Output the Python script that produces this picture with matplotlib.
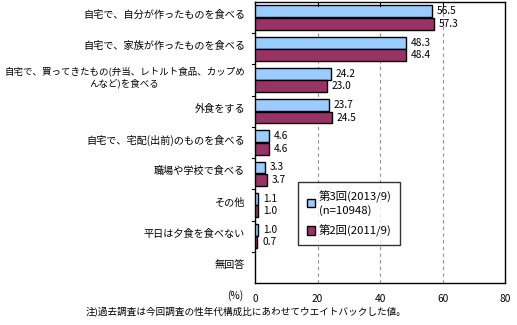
import matplotlib
matplotlib.use("Agg")
import matplotlib.pyplot as plt
from matplotlib.patches import Patch
import numpy as np

plt.rcParams['font.family'] = ['Noto Sans CJK JP', 'DejaVu Sans']

categories = [
    "自宅で、自分が作ったものを食べる",
    "自宅で、家族が作ったものを食べる",
    "自宅で、買ってきたもの(弁当、レトルト食品、カップめ\nんなど)を食べる",
    "外食をする",
    "自宅で、宅配(出前)のものを食べる",
    "職場や学校で食べる",
    "その他",
    "平日は夕食を食べない",
    "無回答",
]
wave3 = [56.5, 48.3, 24.2, 23.7, 4.6, 3.3, 1.1, 1.0, None]
wave2 = [57.3, 48.4, 23.0, 24.5, 4.6, 3.7, 1.0, 0.7, None]
label3 = "第3回(2013/9)\n(n=10948)"
label2 = "第2回(2011/9)"
xticks = [0, 20, 40, 60, 80]

c3 = "#99CCFF"
c2 = "#993366"

fig = plt.figure(figsize=(5.17, 3.25), dpi=100)
ax = fig.add_axes([255/517, 1-283/325, 250/517, 281/325])

n = len(categories)
y = np.arange(n)
h = 0.38
fs = 7.3

for i in range(n):
    for val, off, col in ((wave3[i], -0.2, c3), (wave2[i], 0.2, c2)):
        if val is None:
            continue
        ax.barh(y[i] + off, val, height=h, color=col, edgecolor="black", linewidth=1.0, zorder=3)
        ax.annotate(f"{val:.1f}", xy=(val, y[i] + off), xytext=(3.5, 0),
                    textcoords="offset points", va="center", ha="left", fontsize=fs)

ax.set_xlim(0, 80)
ax.set_ylim(n - 0.5, -0.5)
ax.set_xticks(xticks)
ax.set_xticklabels([str(t) for t in xticks], fontsize=fs)
ax.tick_params(axis="x", length=0, pad=8)
for t in xticks[1:-1]:
    ax.axvline(t, color="#909090", linestyle=(0, (3, 3)), linewidth=0.8, zorder=1)
    ax.plot([t, t], [-0.5, -0.5 + 0.12], color="black", linewidth=0.8, zorder=4, clip_on=False)

# category labels, right-aligned next to the axis
ax.set_yticks([])
for i, c in enumerate(categories):
    size = 6.8 if "\n" in c else fs
    ax.text(-3.2, y[i] - 0.08, c, ha="right", va="center", fontsize=size,
            multialignment="center", linespacing=1.3)
# small tick marks between categories on the left axis
for b in np.arange(0.5, n - 0.5, 1.0):
    ax.plot([-0.9, 0], [b, b], color="black", linewidth=0.8, clip_on=False, zorder=4)

for s in ax.spines.values():
    s.set_linewidth(1.0)
    s.set_color("black")

fig.text(243/517, 1-296/325, "(%)", ha="right", va="center", fontsize=fs)
fig.text(246/517, 1-311/325, "注)過去調査は今回調査の性年代構成比にあわせてウエイトバックした値。",
         ha="center", va="center", fontsize=6.9)

handles = [Patch(facecolor=c3, edgecolor="black", label=label3),
           Patch(facecolor=c2, edgecolor="black", label=label2)]
leg = ax.legend(handles=handles, loc="upper left", bbox_to_anchor=((298-255)/250, (283-182)/281),
                fontsize=8.2, frameon=True, fancybox=False, edgecolor="black",
                handlelength=0.75, handleheight=0.75, handletextpad=0.3, borderpad=0.75,
                labelspacing=0.8, borderaxespad=0)
leg.get_frame().set_linewidth(1.0)
for t in leg.get_texts():
    t.set_multialignment("left")

fig.savefig("out.png", dpi=100)
